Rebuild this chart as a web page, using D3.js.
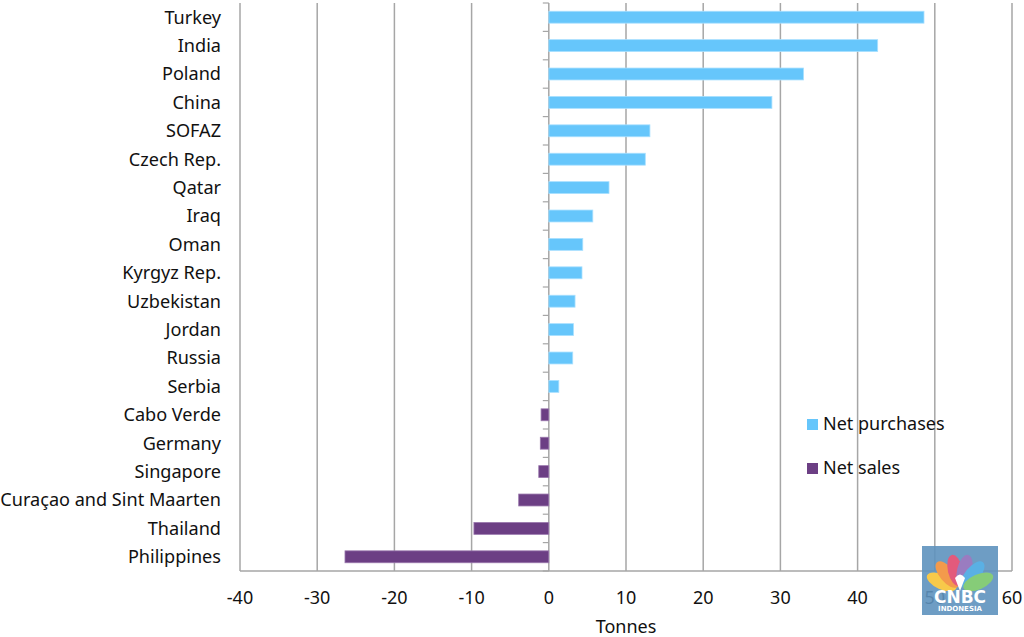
<!DOCTYPE html>
<html><head><meta charset="utf-8">
<script src="https://cdn.jsdelivr.net/npm/d3@7/dist/d3.min.js"></script>
<style>body{margin:0;background:#fff}svg{display:block}</style>
</head><body><svg id="c" width="1024" height="637"></svg>
<script>
const countries = ["Turkey","India","Poland","China","SOFAZ","Czech Rep.","Qatar","Iraq","Oman","Kyrgyz Rep.","Uzbekistan","Jordan","Russia","Serbia","Cabo Verde","Germany","Singapore","Curaçao and Sint Maarten","Thailand","Philippines"];
const tonnes = [48.6,42.6,33.0,28.9,13.1,12.5,7.8,5.7,4.4,4.3,3.4,3.2,3.1,1.3,-1.0,-1.1,-1.3,-3.9,-9.7,-26.4];
const xTicks = [-40,-30,-20,-10,0,10,20,30,40,50,60];
const seriesNames = ["Net purchases","Net sales"];
const seriesColors = ["#66c6fb","#6c3f84"];
const edgeColors = ["#a9e0ff","#9a78ad"];

const svg = d3.select("#c");
const font = "'Noto Sans', 'Open Sans', sans-serif";
const L = 240, R = 1012, T = 3, B = 571;
const x = d3.scaleLinear().domain([-40,60]).range([L,R]);
const y = d3.scaleBand().domain(countries).range([T,B]).paddingInner(0.58).paddingOuter(0.29);
const band = d3.scaleBand().domain(countries).range([T,B]);
const gray = "#a6a6a6";

// gridlines
svg.append("g").selectAll("line").data(xTicks).join("line")
  .attr("x1",d=>x(d)).attr("x2",d=>x(d)).attr("y1",T).attr("y2",B)
  .attr("stroke",gray).attr("stroke-width",1.5);
svg.append("line").attr("x1",L).attr("x2",R).attr("y1",B).attr("y2",B).attr("stroke",gray).attr("stroke-width",1.5);

// category tick marks at band boundaries on the zero axis
const bounds = countries.map(c=>band(c)).concat([B]);
svg.append("g").selectAll("line").data(bounds).join("line")
  .attr("x1",x(0)-6).attr("x2",x(0)).attr("y1",d=>d).attr("y2",d=>d)
  .attr("stroke",gray).attr("stroke-width",1.2);

// bars
svg.append("g").selectAll("rect").data(countries).join("rect")
  .attr("x",(d,i)=>x(Math.min(0,tonnes[i])))
  .attr("width",(d,i)=>Math.abs(x(tonnes[i])-x(0)))
  .attr("y",d=>y(d)).attr("height",y.bandwidth())
  .attr("fill",(d,i)=>seriesColors[tonnes[i]>=0?0:1])
  .attr("stroke",(d,i)=>edgeColors[tonnes[i]>=0?0:1]).attr("stroke-width",0.8);

// category labels
svg.append("g").selectAll("text").data(countries).join("text")
  .attr("x",221).attr("y",d=>band(d)+band.bandwidth()/2).attr("dy","0.35em")
  .attr("text-anchor","end").attr("font-family",font).attr("font-size",18.1).attr("fill","#111")
  .text(d=>d);

// x axis tick labels
svg.append("g").selectAll("text").data(xTicks).join("text")
  .attr("x",d=>x(d)).attr("y",598).attr("dy","0.35em").attr("text-anchor","middle")
  .attr("font-family",font).attr("font-size",18).attr("fill","#111").text(d=>d);
svg.append("text").attr("x",626).attr("y",627).attr("dy","0.35em").attr("text-anchor","middle")
  .attr("font-family",font).attr("font-size",18).attr("fill","#111").text("Tonnes");

// legend
const lg = svg.append("g").selectAll("g").data(seriesNames).join("g")
  .attr("transform",(d,i)=>`translate(807,${424+i*44})`);
lg.append("rect").attr("x",0).attr("y",-5).attr("width",11).attr("height",11).attr("fill",(d,i)=>seriesColors[i]);
lg.append("text").attr("x",16).attr("y",0).attr("dy","0.35em").attr("font-family",font).attr("font-size",18).attr("fill","#111").text(d=>d);

// watermark
const wm = svg.append("g").attr("transform","translate(922,546)");
wm.append("rect").attr("width",76).attr("height",69).attr("fill","#5e92be").attr("opacity",0.9);
const feathers = ["#f7c94a","#f39a4c","#e35a7c","#9a7cc0","#5ab0e4","#86cc78"];
feathers.forEach((c,i)=>{
  const a = -66 + i*26.4;
  wm.append("ellipse").attr("cx",38).attr("cy",24).attr("rx",7.5).attr("ry",16)
    .attr("fill",c).attr("transform",`rotate(${a},38,44)`);
});
wm.append("path").attr("d","M38,45 L33,32 Q38,25 43,32 Z").attr("fill","#fff");
wm.append("text").attr("x",38).attr("y",57).attr("text-anchor","middle").attr("font-family","'DejaVu Sans', sans-serif")
  .attr("font-weight","bold").attr("font-size",17).attr("fill","#fff").text("CNBC");
wm.append("text").attr("x",38).attr("y",65).attr("text-anchor","middle").attr("font-family","'DejaVu Sans', sans-serif")
  .attr("font-weight","bold").attr("font-size",7).attr("fill","#fff").text("INDONESIA");
</script></body></html>
